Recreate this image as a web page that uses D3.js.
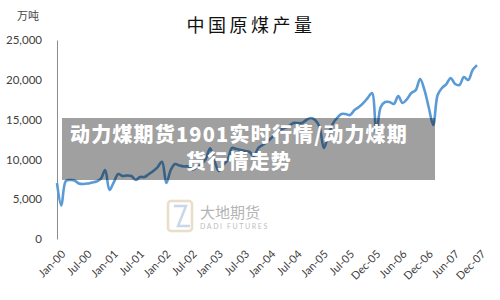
<!DOCTYPE html>
<html><head><meta charset="utf-8">
<script src="https://cdn.jsdelivr.net/npm/d3@7"></script>
<style>html,body{margin:0;padding:0;background:#fff;}svg{display:block;}</style>
</head><body>
<script>
const title = "中国原煤产量";
const unitLabel = "万吨";
const yTicks = [0, 5000, 10000, 15000, 20000, 25000];
const tickLabels = ["Jan-00","Jul-00","Jan-01","Jul-01","Jan-02","Jul-02","Jan-03","Jul-03","Jan-04","Jul-04","Jan-05","Jul-05","Dec-05","Jun-06","Dec-06","Jun-07","Dec-07"];
const tickStep = 6;
const output = [
 7030,4200,7280,7410,7350,6970,6910,6970,7100,7220,
 7540,8670,6150,7160,8160,7910,7980,7910,7410,7790,
 7790,8160,8540,9040,9710,7030,8670,9420,9230,9110,
 9110,8730,8980,9420,10050,11390,9800,8540,9290,9920,
 11430,11300,11180,11050,10930,10420,11430,11810,12180,12690,
 13190,13690,13940,14190,14570,14570,14570,14950,15200,14950,
 14070,11430,13060,14440,15200,15700,15700,15570,16200,16580,
 17080,17700,18340,13310,16580,17210,17210,16960,17960,17080,
 17580,18340,18710,20100,18710,16450,14320,18090,18970,19470,
 20220,19470,19340,20350,19970,21230,21850
];
const overlayLines = ["动力煤期货1901实时行情/动力煤期", "货行情走势"];
const brandCN = "大地期货";
const brandEN = "DADI FUTURES";

const W = 500, H = 300;
const svg = d3.select("body").append("svg").attr("width", W).attr("height", H);

const x = d3.scaleLinear().domain([0, output.length - 1]).range([57, 477]);
const y = d3.scaleLinear().domain([0, 25000]).range([239, 40]);

// title
svg.append("text").attr("x", 251).attr("y", 32).attr("text-anchor", "middle")
  .attr("font-family", "'Noto Sans CJK SC'").attr("font-size", 18).attr("letter-spacing", 3.5)
  .attr("fill", "#111").text(title);
svg.append("text").attr("x", 28).attr("y", 20).attr("text-anchor", "middle")
  .attr("font-family", "'Noto Sans CJK SC'").attr("font-size", 11).attr("fill", "#444").text(unitLabel);

// y axis
const yAxis = d3.axisLeft(y).tickValues(yTicks).tickSize(0).tickPadding(15).tickFormat(d3.format(","));
const gy = svg.append("g").attr("transform", "translate(57,0)").call(yAxis);
gy.select(".domain").attr("stroke", "#8c8c8c").attr("stroke-width", 1);
gy.selectAll("text").attr("font-family", "Lato, 'Open Sans', sans-serif").attr("font-size", 11.5).attr("fill", "#404040");

// x axis labels
const xTickVals = tickLabels.map((d, i) => i * tickStep);
const xAxis = d3.axisBottom(x).tickValues(xTickVals).tickSize(0).tickFormat((d, i) => tickLabels[i]);
const gx = svg.append("g").attr("transform", "translate(0,250)").call(xAxis);
gx.select(".domain").remove();
gx.selectAll("text").attr("font-family", "Lato, 'Open Sans', sans-serif").attr("font-size", 11).attr("fill", "#404040")
  .attr("text-anchor", "end").attr("dy", "0.35em")
  .attr("transform", "translate(4,0) rotate(-45)");

// watermark
const wm = svg.append("g").attr("opacity", 0.55);
wm.append("rect").attr("x", 168).attr("y", 201).attr("width", 24).attr("height", 30).attr("rx", 3)
  .attr("fill", "none").attr("stroke", "#d8c49a").attr("stroke-width", 2.5);
wm.append("path").attr("d", "M174,206 L186,206 L178,226 L190,226").attr("fill", "none").attr("stroke", "#9fb7d6").attr("stroke-width", 2.5);
wm.append("text").attr("x", 200).attr("y", 218).attr("font-family", "'Noto Sans CJK SC'").attr("font-size", 15)
  .attr("fill", "#777").text(brandCN);
wm.append("text").attr("x", 200).attr("y", 229).attr("font-family", "Lato, sans-serif").attr("font-size", 7)
  .attr("letter-spacing", 1.6).attr("fill", "#888").text(brandEN);

// line
const line = d3.line().x((d, i) => x(i)).y(d => y(d)).curve(d3.curveCatmullRom.alpha(0.5));
svg.append("path").datum(output).attr("d", line).attr("fill", "none")
  .attr("stroke", "#5b9bd5").attr("stroke-width", 2.6).attr("stroke-linejoin", "round");

// overlay band
svg.append("rect").attr("x", 62).attr("y", 118).attr("width", 373).attr("height", 62)
  .attr("fill", "#000").attr("opacity", 0.373);
overlayLines.forEach((t, i) => {
  svg.append("text").attr("x", 239).attr("y", 141.5 + i * 27).attr("text-anchor", "middle")
    .attr("font-family", "'Noto Sans CJK SC'").attr("font-weight", "900").attr("font-size", 20)
    .attr("letter-spacing", 1.2).attr("fill", "#fff").text(t);
});
</script>
</body></html>
